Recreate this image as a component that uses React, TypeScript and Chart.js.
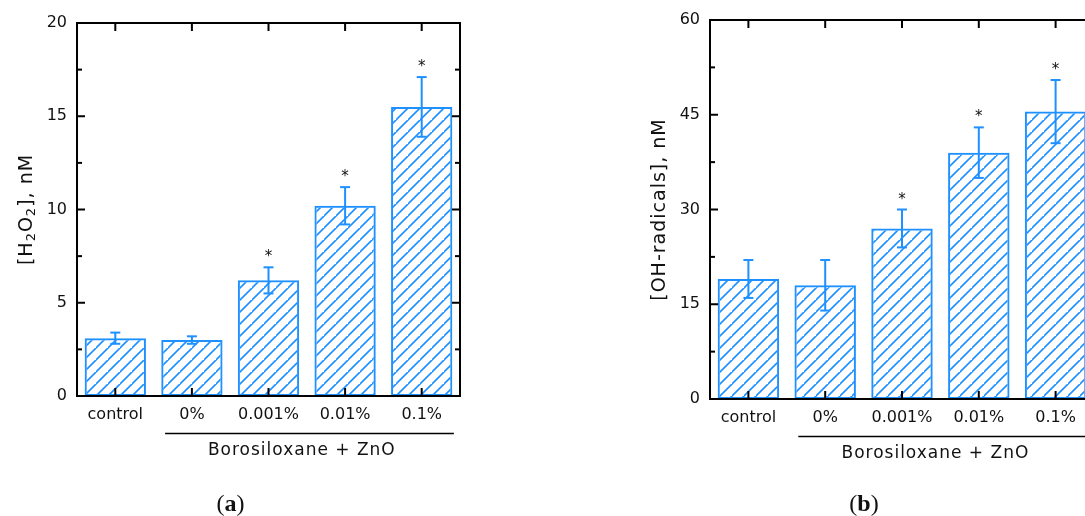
import React, { useEffect, useRef } from 'react';
import { Chart, registerables } from 'chart.js';

Chart.register(...registerables);

const categories = ['control', '0%', '0.001%', '0.01%', '0.1%'];
const groupLabel = 'Borosiloxane + ZnO';

const h2o2Values = [3.1, 3.0, 6.2, 10.2, 15.5];
const h2o2Errors = [0.3, 0.2, 0.7, 1.0, 1.6];
const h2o2Significant = [false, false, true, true, true];
const h2o2Ticks = [0, 5, 10, 15, 20];

const ohValues = [19, 18, 27, 39, 45.5];
const ohErrors = [3, 4, 3, 4, 5];
const ohSignificant = [false, false, true, true, true];
const ohTicks = [0, 15, 30, 45, 60];

const h2o2Title = [
  { t: '[H', sub: false },
  { t: '2', sub: true },
  { t: 'O', sub: false },
  { t: '2', sub: true },
  { t: '], nM', sub: false },
];
const ohTitle = [{ t: '[OH-radicals], nM', sub: false }];

const BLUE = 'rgb(30,144,255)';
const FONT = '"DejaVu Sans", sans-serif';

function makeHatch(color: string) {
  const s = 12;
  const c = document.createElement('canvas');
  c.width = s;
  c.height = s;
  const g = c.getContext('2d')!;
  g.strokeStyle = color;
  g.lineWidth = 1.6;
  g.beginPath();
  g.moveTo(-1, s + 1);
  g.lineTo(s + 1, -1);
  g.moveTo(-s - 1, s + 1);
  g.lineTo(1, -1);
  g.moveTo(s - 1, 2 * s + 1);
  g.lineTo(2 * s + 1, s - 1);
  g.stroke();
  const ctx = document.createElement('canvas').getContext('2d')!;
  return ctx.createPattern(c, 'repeat')!;
}

interface Spec {
  width: number;
  padTop: number;
  padRight: number;
  yWidth: number;
  xHeight: number;
  values: number[];
  errors: number[];
  sig: boolean[];
  ticks: number[];
  title: { t: string; sub: boolean }[];
  caption: string;
}

function line(ctx: CanvasRenderingContext2D, x1: number, y1: number, x2: number, y2: number) {
  ctx.beginPath();
  ctx.moveTo(x1, y1);
  ctx.lineTo(x2, y2);
  ctx.stroke();
}

function setSpacing(ctx: CanvasRenderingContext2D, v: string) {
  (ctx as any).letterSpacing = v;
}

function buildChart(canvas: HTMLCanvasElement, spec: Spec) {
  const overlay = {
    id: 'overlay',
    afterDatasetsDraw(chart: any) {
      const ctx = chart.ctx as CanvasRenderingContext2D;
      const xs = chart.scales.x;
      const ys = chart.scales.y;
      ctx.save();
      ctx.strokeStyle = BLUE;
      ctx.lineWidth = 2;
      spec.values.forEach((v, i) => {
        const x = xs.getPixelForValue(i);
        const yt = ys.getPixelForValue(v + spec.errors[i]);
        const yb = ys.getPixelForValue(v - spec.errors[i]);
        line(ctx, x, yt, x, yb);
        line(ctx, x - 5, yt, x + 5, yt);
        line(ctx, x - 5, yb, x + 5, yb);
        if (spec.sig[i]) {
          ctx.fillStyle = '#111';
          ctx.font = '15px "DejaVu Sans", sans-serif';
          ctx.textAlign = 'center';
          ctx.textBaseline = 'alphabetic';
          ctx.fillText('*', x, yt - 16 + 10);
        }
      });
      ctx.restore();
    },
    afterDraw(chart: any) {
      const ctx = chart.ctx as CanvasRenderingContext2D;
      const a = chart.chartArea;
      const xs = chart.scales.x;
      const ys = chart.scales.y;
      ctx.save();
      ctx.strokeStyle = '#000';
      ctx.lineWidth = 2;
      ctx.strokeRect(a.left, a.top, a.right - a.left, a.bottom - a.top);
      const tk = spec.ticks;
      tk.forEach((v, i) => {
        const y = ys.getPixelForValue(v);
        line(ctx, a.left, y, a.left + 8, y);
        line(ctx, a.right, y, a.right - 8, y);
        if (i < tk.length - 1) {
          const ym = ys.getPixelForValue((v + tk[i + 1]) / 2);
          line(ctx, a.left, ym, a.left + 5, ym);
          line(ctx, a.right, ym, a.right - 5, ym);
        }
      });
      categories.forEach((_, i) => {
        const x = xs.getPixelForValue(i);
        line(ctx, x, a.bottom, x, a.bottom - 8);
        line(ctx, x, a.top, x, a.top + 8);
      });
      // group label
      const cw = xs.getPixelForValue(1) - xs.getPixelForValue(0);
      const x1 = xs.getPixelForValue(1);
      const x4 = xs.getPixelForValue(categories.length - 1);
      ctx.lineWidth = 1.5;
      line(ctx, x1 - 0.35 * cw, a.bottom + 37.5, x4 + 0.42 * cw, a.bottom + 37.5);
      ctx.fillStyle = '#111';
      ctx.font = '17px ' + FONT;
      setSpacing(ctx, '1px');
      ctx.textAlign = 'center';
      ctx.textBaseline = 'middle';
      ctx.fillText(groupLabel, (x1 + x4) / 2 - 5, a.bottom + 55);
      // y title
      ctx.save();
      const tx = a.left - 52;
      const ty = (a.top + a.bottom) / 2;
      ctx.translate(tx, ty);
      ctx.rotate(-Math.PI / 2);
      const mainF = '19px ' + FONT;
      const subF = '13px ' + FONT;
      setSpacing(ctx, '1px');
      let total = 0;
      spec.title.forEach((p) => {
        ctx.font = p.sub ? subF : mainF;
        total += ctx.measureText(p.t).width;
      });
      let cx = -total / 2;
      ctx.textAlign = 'left';
      ctx.textBaseline = 'alphabetic';
      spec.title.forEach((p) => {
        ctx.font = p.sub ? subF : mainF;
        ctx.fillText(p.t, cx, p.sub ? 10 : 7);
        cx += ctx.measureText(p.t).width;
      });
      ctx.restore();
      setSpacing(ctx, '0px');
      // caption
      const capX = (a.left + a.right) / 2 - 38;
      const capY = 505;
      const parts = [
        { t: '(', f: '24px "Liberation Serif", serif' },
        { t: spec.caption, f: 'bold 24px "Liberation Serif", serif' },
        { t: ')', f: '24px "Liberation Serif", serif' },
      ];
      let w = 0;
      parts.forEach((p) => {
        ctx.font = p.f;
        w += ctx.measureText(p.t).width;
      });
      let px = capX - w / 2;
      ctx.textAlign = 'left';
      ctx.textBaseline = 'middle';
      parts.forEach((p) => {
        ctx.font = p.f;
        ctx.fillText(p.t, px, capY);
        px += ctx.measureText(p.t).width;
      });
      ctx.restore();
    },
  };

  return new Chart(canvas, {
    type: 'bar',
    data: {
      labels: categories,
      datasets: [
        {
          data: spec.values,
          backgroundColor: makeHatch(BLUE) as any,
          borderColor: BLUE,
          borderWidth: 2,
          borderSkipped: false,
          barPercentage: 1,
          categoryPercentage: 0.8,
        },
      ],
    },
    options: {
      animation: false,
      responsive: false,
      maintainAspectRatio: false,
      devicePixelRatio: 1,
      layout: { padding: { left: 0, top: spec.padTop, right: spec.padRight, bottom: 0 } },
      plugins: { legend: { display: false }, tooltip: { enabled: false }, title: { display: false } },
      scales: {
        x: {
          grid: { display: false, drawTicks: false },
          border: { display: false },
          ticks: { font: { family: FONT, size: 16 }, color: '#111', padding: 9, maxRotation: 0, autoSkip: false },
          afterFit: (s: any) => {
            s.height = spec.xHeight;
          },
        },
        y: {
          min: 0,
          max: spec.ticks[spec.ticks.length - 1],
          grid: { display: false, drawTicks: false },
          border: { display: false },
          ticks: { font: { family: FONT, size: 16 }, color: '#111', padding: 10 },
          afterBuildTicks: (s: any) => {
            s.ticks = spec.ticks.map((v) => ({ value: v }));
          },
          afterFit: (s: any) => {
            s.width = spec.yWidth;
          },
        },
      },
    },
    plugins: [overlay],
  });
}

function Panel({ spec, left }: { spec: Spec; left: number }) {
  const ref = useRef<HTMLCanvasElement>(null);
  useEffect(() => {
    const chart = buildChart(ref.current!, spec);
    return () => chart.destroy();
  }, []);
  return (
    <canvas
      ref={ref}
      width={spec.width}
      height={516}
      style={{ position: 'absolute', left, top: 0, width: spec.width, height: 516 }}
    />
  );
}

export default function App() {
  const specA: Spec = {
    width: 480,
    padTop: 23,
    padRight: 20,
    yWidth: 77,
    xHeight: 120,
    values: h2o2Values,
    errors: h2o2Errors,
    sig: h2o2Significant,
    ticks: h2o2Ticks,
    title: h2o2Title,
    caption: 'a',
  };
  const specB: Spec = {
    width: 500,
    padTop: 20,
    padRight: 6,
    yWidth: 110,
    xHeight: 117,
    values: ohValues,
    errors: ohErrors,
    sig: ohSignificant,
    ticks: ohTicks,
    title: ohTitle,
    caption: 'b',
  };
  return (
    <div
      style={{
        position: 'absolute',
        left: 0,
        top: 0,
        width: 1085,
        height: 516,
        overflow: 'hidden',
        background: '#fff',
      }}
    >
      <Panel spec={specA} left={0} />
      <Panel spec={specB} left={600} />
    </div>
  );
}
